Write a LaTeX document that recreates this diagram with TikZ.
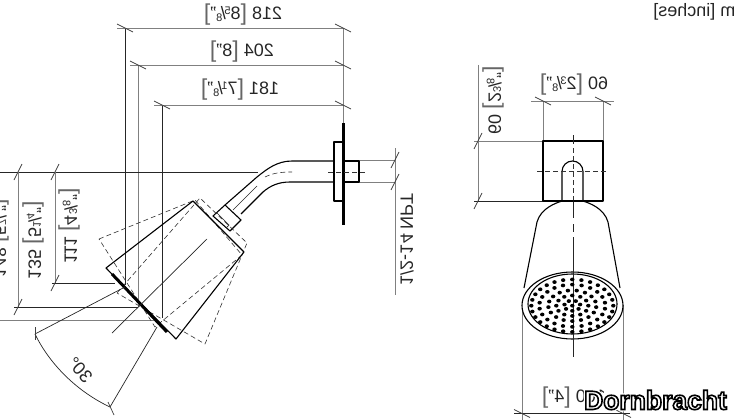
\documentclass[tikz,border=0pt]{standalone}
\usepackage{fontspec}
\setmainfont{Liberation Sans}
\newcommand{\frc}[2]{\raisebox{.5ex}{\fontsize{11}{11}\selectfont #1}\kern-.08em/\kern-.08em\raisebox{-.2ex}{\fontsize{11}{11}\selectfont #2}}
\newcommand{\brk}[1]{\textcolor{black!60}{\raisebox{-1.6pt}{\fontsize{23}{23}\selectfont [}}#1\textcolor{black!60}{\raisebox{-1.6pt}{\fontsize{23}{23}\selectfont ]}}}
\newcommand{\strokedtext}[3]{\special{pdf:code q 2 Tr #1 w #2}#3\special{pdf:code Q}}
\begin{document}
\begin{tikzpicture}[
        x=1pt, y=-1pt,
        outline/.style={draw=black, line width=1.1pt, line join=round},
        thinline/.style={draw=black!85, line width=0.7pt},
        extline/.style={draw=black!50, line width=0.8pt},
        dashline/.style={draw=black!80, line width=0.6pt, dash pattern=on 5pt off 3pt},
        dimtick/.style={draw=black!75, line width=0.7pt},
        dimtext/.style={xscale=-1, font=\fontsize{18}{18}\selectfont, text=black!85, inner sep=0pt},
        logotext/.style={font=\bfseries\fontsize{26.5}{26.5}\selectfont, inner sep=0pt}
      ]
      \useasboundingbox (0,0) rectangle (736,420);

      % extension lines
      \draw[thinline] (125,28) -- (125,285);
      \draw[extline] (138,65) -- (138,307);
      \draw[thinline] (162,105) -- (162,318);
      \draw[extline] (343,28) -- (343,125);
      \draw[extline] (117,28) -- (343,28);
      \draw[extline] (130,65) -- (343,65);
      \draw[extline] (154,105) -- (343,105);
      \draw[thinline] (0,172) -- (258,172);
      \draw[thinline] (52,283) -- (115,283);
      \draw[thinline] (14,307) -- (138,307);
      \draw[extline] (0,320) -- (157,320);
      \draw[extline] (55,172) -- (55,283);
      \draw[extline] (18,172) -- (18,307);
      \draw[extline] (359,160) -- (396,160);
      \draw[extline] (359,182) -- (396,182);
      \draw[extline] (395,148) -- (395,295);
      \draw[extline] (543,101) -- (543,141);
      \draw[extline] (603,101) -- (603,141);
      \draw[extline] (531,101) -- (614,101);
      \draw[extline] (478,65) -- (478,201);
      \draw[extline] (474,141) -- (543,141);
      \draw[thinline] (474,201) -- (543,201);
      \draw[extline] (522,305) -- (522,420);
      \draw[extline] (623,305) -- (623,420);
      \draw[thinline] (514,413.5) -- (630,413.5);

      % ticks
      \foreach \tx/\ty in {125/28,343/28,138/65,343/65,162/105,343/105,543/101,603/101,522/413.5,623/413.5}
        \draw[dimtick] ({\tx-8},{\ty-4}) -- ({\tx+8},{\ty+4});
      \foreach \tx/\ty in {55/172,55/283,18/172,18/307,395/160,395/182,478/141,478/201}
        \draw[dimtick] ({\tx-4},{\ty+8}) -- ({\tx+4},{\ty-8});

      % wall plate and arm
      \draw[line width=3pt] (343,123) -- (343,225);
      \draw[outline] (334,142) rectangle (343,201);
      \draw[outline] (343,161) rectangle (359,182);
      \draw[outline] (334,161) -- (292,161) .. controls (277,161) and (267,169) .. (257,177) -- (225,205);
      \draw[outline] (334,182) -- (290,182) .. controls (278,182) and (270,186) .. (263,192) -- (241,214);
      \draw[dashline] (265,177) .. controls (273,173) and (281,172) .. (292,172);
      \draw[dashline] (328,172) -- (367,172);
      \draw[thinline] (233,210) -- (257,186);

      % collar
      \draw[outline] (225,205) -- (241,220) -- (230,231) -- (213,216) -- cycle;
      \draw[thinline] (217,213) -- (229,225) -- (226,228);

      % tilted head
      \draw[dashline] (99,239) -- (195,200) -- (242,255) -- (155,327) -- cycle;
      \draw[dashline] (117,293) -- (200,198) -- (247,243) -- (205,344) -- cycle;
      \draw[outline] (193,201) -- (244,252) -- (176,339) -- (106,268) -- cycle;
      \draw[line width=3pt] (112,274) -- (167,332);
      \draw[thinline] (207,239) -- (112,333);

      % angle
      \draw[thinline] (125,287) -- (35,334);
      \draw[thinline] (157,327) -- (110,407);
      \draw[thinline] (35,334) .. controls (50,365) and (78,392) .. (110,407);
      \draw[dimtick] (35,327) -- (35,340);
      \draw[dimtick] (108,402) -- (114,415);

      % front view
      \draw[outline] (543,141) rectangle (603,201);
      \draw[outline] (562,201) -- (562,171.5) arc[start angle=180, end angle=360, radius=10.5] -- (583,201);
      \draw[dashline] (537,171) -- (608,171);
      \draw[thinline] (573,135) -- (573,144);
      \draw[dashline] (573,148) -- (573,200);
      \draw[thinline] (573,200) -- (573,218);
      \draw[thinline] (573,224) -- (573,232);
      \draw[outline] (524,288) -- (537,222) .. controls (541,208) and (556,203) .. (562,201) -- (583,201) .. controls (589,203) and (604,208) .. (608,222) -- (620,288);
      \draw[outline, fill=white] (572.5,305.5) ellipse[x radius=50.5, y radius=33.5];
      \draw[outline] (572.5,304) ellipse[x radius=44.5, y radius=30];
      \draw[thinline] (573,237) -- (573,357);

      % holes
      \fill (572.3,305.7) ellipse[x radius=2.2, y radius=1.9];
      \foreach \rr/\nn in {8/7,16/12,24/17,33/22,41/28}
        \foreach \kk in {1,...,\nn}
          \fill ({572.3+\rr*cos(270+360*\kk/\nn)},{305.7-0.64*\rr*sin(270+360*\kk/\nn)}) ellipse[x radius=2.2, y radius=1.9];

      % labels
      \node[dimtext] (labeltop) at (243,15) {218 \brk{8\frc{5}{8}"}};
      \node[dimtext] (labelmid) at (242,52) {204 \brk{8"}};
      \node[dimtext] (labellow) at (240,90) {181 \brk{7\frc{1}{8}"}};
      \node[dimtext, rotate=90] (labeldrop) at (69,226) {111 \brk{4\frc{3}{8}"}};
      \node[dimtext, rotate=90] (labelhead) at (33,240) {135 \brk{5\frc{1}{4}"}};
      \node[dimtext, rotate=90] (labelface) at (-2,238) {148 \brk{5\frc{7}{8}"}};
      \node[dimtext, rotate=90] (labelthread) at (407,239) {1/2-14 NPT};
      \node[dimtext, rotate=48] (labelangle) at (80,370) {30°};
      \node[dimtext] (labelwidth) at (574,85) {60 \brk{2\frc{3}{8}"}};
      \node[dimtext, rotate=90] (labelheight) at (493,100) {60 \brk{2\frc{3}{8}"}};
      \node[dimtext] (labeldia) at (574,398) {100 \brk{4"}};
      \node[dimtext, anchor=west] (labelunit) at (750.5,12) {mm [inches]};

      % logo
      \node[logotext] (logohalo) at (655.5,400) {\strokedtext{4}{1 G 1 g}{Dornbracht}};
      \node[logotext] (logo) at (655.5,400) {\strokedtext{1.6}{0 G 1 g}{Dornbracht}};
\end{tikzpicture}
\end{document}
